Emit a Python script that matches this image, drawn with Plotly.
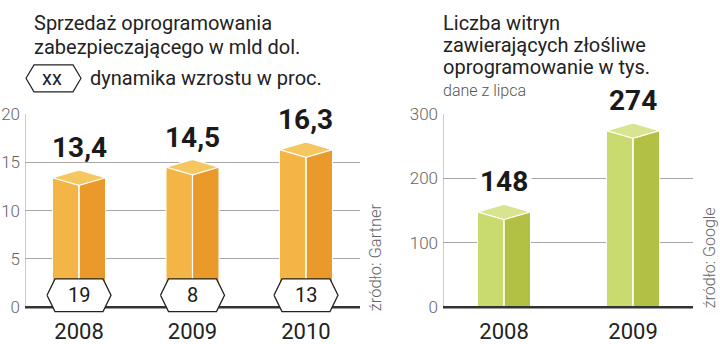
import plotly.graph_objects as go

# ---------------- data ----------------
years_left = ["2008", "2009", "2010"]
sales_bln = [13.4, 14.5, 16.3]
sales_labels = ["13,4", "14,5", "16,3"]
growth_pct = ["19", "8", "13"]

years_right = ["2008", "2009"]
sites_k = [148, 274]
sites_labels = ["148", "274"]

left_ticks = [0, 5, 10, 15, 20]
right_ticks = [0, 100, 200, 300]

# ---------------- layout constants ----------------
W, H = 720, 344
FONT = "Roboto"
ORANGE = dict(front="#F3B646", side="#E99A2B", top="#F6C760")
GREEN = dict(front="#C9DA6E", side="#B2C044", top="#D8E58E")

Y_TOP_PX, Y_BOT_PX = 108, 318
L_X0, L_X1 = 25, 360
R_X0, R_X1 = 443, 693
L_YR = [-0.9, 20]
R_YR = [-13.4, 300]
L_XR = [-0.476, 2.476]
R_XR = [-0.473, 1.465]

ydom = [1 - Y_BOT_PX / H, 1 - Y_TOP_PX / H]


def units_per_px_y(yr):
    return (yr[1] - yr[0]) / (Y_BOT_PX - Y_TOP_PX)


def units_per_px_x(xr, x0, x1):
    return (xr[1] - xr[0]) / (x1 - x0)


fig = go.Figure()


def add_chart(xa, ya, xr, yr, x0px, x1px, values, labels, colors, label_bg, hexes=None):
    uy = units_per_px_y(yr)
    ux = units_per_px_x(xr, x0px, x1px)
    half_w = 26.5 * ux
    d = 8 * uy
    xs = list(range(len(values)))
    # y-axis line
    fig.add_trace(go.Scatter(x=[xr[0], xr[0]], y=[0, yr[1]], mode="lines",
                             line=dict(color="#9a9a9a", width=1), xaxis=xa, yaxis=ya,
                             hoverinfo="skip", showlegend=False, cliponaxis=False))
    # bar bodies
    fig.add_trace(go.Bar(x=xs, y=values, width=half_w, offset=-half_w,
                         marker=dict(color=colors["front"], line=dict(color="white", width=1)),
                         xaxis=xa, yaxis=ya, showlegend=False, hoverinfo="skip"))
    fig.add_trace(go.Bar(x=xs, y=values, width=half_w, offset=0,
                         marker=dict(color=colors["side"], line=dict(color="white", width=1)),
                         xaxis=xa, yaxis=ya, showlegend=False, hoverinfo="skip"))
    # top faces
    for i, v in zip(xs, values):
        fig.add_trace(go.Scatter(
            x=[i - half_w, i, i + half_w, i, i - half_w],
            y=[v, v + d, v, v - d, v],
            mode="lines", fill="toself", fillcolor=colors["top"],
            line=dict(color="white", width=1.2), xaxis=xa, yaxis=ya,
            showlegend=False, hoverinfo="skip"))
        fig.add_trace(go.Scatter(x=[i, i], y=[0, v - d], mode="lines",
                                 line=dict(color="white", width=1.2), xaxis=xa, yaxis=ya,
                                 showlegend=False, hoverinfo="skip"))
    # baseline
    fig.add_trace(go.Scatter(x=[xr[0], xr[1]], y=[0, 0], mode="lines",
                             line=dict(color="#333333", width=2.5), xaxis=xa, yaxis=ya,
                             hoverinfo="skip", showlegend=False, cliponaxis=False))
    # value labels
    for i, v, t in zip(xs, values, labels):
        fig.add_annotation(x=i, y=v, xref=xa, yref=ya, text=t, showarrow=False,
                           yshift=30, xanchor="center", yanchor="middle",
                           font=dict(family=FONT, size=28, color="#1a1a1a", weight="bold"),
                           bgcolor=label_bg, borderpad=3)
    # hexagons
    if hexes:
        hc = 12.5 * uy
        hh = 17 * uy
        hw = 32 * ux
        ins = 8 * ux
        for i, t in zip(xs, hexes):
            fig.add_trace(go.Scatter(
                x=[i - hw, i - hw + ins, i + hw - ins, i + hw, i + hw - ins, i - hw + ins, i - hw],
                y=[hc, hc + hh, hc + hh, hc, hc - hh, hc - hh, hc],
                mode="lines", fill="toself", fillcolor="white",
                line=dict(color="#222222", width=1.3), xaxis=xa, yaxis=ya,
                showlegend=False, hoverinfo="skip", cliponaxis=False))
            fig.add_annotation(x=i, y=hc, xref=xa, yref=ya, text=t, showarrow=False,
                               xanchor="center", yanchor="middle",
                               font=dict(family=FONT, size=20, color="#1a1a1a"))


add_chart("x", "y", L_XR, L_YR, L_X0, L_X1, sales_bln, sales_labels, ORANGE, "rgba(0,0,0,0)", growth_pct)
add_chart("x2", "y2", R_XR, R_YR, R_X0, R_X1, sites_k, sites_labels, GREEN, "white")

tickfont = dict(family=FONT, size=17, color="#666666", weight=300)
yearfont = dict(family=FONT, size=22, color="#222222")

fig.update_layout(
    width=W, height=H, margin=dict(l=0, r=0, t=0, b=0),
    paper_bgcolor="white", plot_bgcolor="white",
    barmode="overlay", showlegend=False,
    xaxis=dict(domain=[L_X0 / W, L_X1 / W], range=L_XR, tickvals=[0, 1, 2], ticktext=years_left,
               showgrid=False, zeroline=False, showline=False, ticks="", tickfont=yearfont,
               fixedrange=True),
    yaxis=dict(domain=ydom, range=L_YR, tickvals=left_ticks, showgrid=True, gridcolor="#a8a8a8",
               gridwidth=1, zeroline=False, showline=False, ticks="", tickfont=tickfont,
               ticklabelstandoff=4),
    xaxis2=dict(domain=[R_X0 / W, R_X1 / W], range=R_XR, tickvals=[0, 1], ticktext=years_right,
                showgrid=False, zeroline=False, showline=False, ticks="", tickfont=yearfont,
                anchor="y2"),
    yaxis2=dict(domain=ydom, range=R_YR, tickvals=right_ticks, showgrid=True, gridcolor="#a8a8a8",
                gridwidth=1, zeroline=False, showline=False, ticks="", tickfont=tickfont,
                anchor="x2", ticklabelstandoff=4),
)


def ptext(x, y, t, size, color="#222222", weight=400, angle=0, xanchor="left"):
    fig.add_annotation(x=x / W, y=1 - y / H, xref="paper", yref="paper", text=t,
                       showarrow=False, xanchor=xanchor, yanchor="middle", textangle=angle,
                       font=dict(family=FONT, size=size, color=color, weight=weight))


# titles
ptext(32, 14, "Sprzedaż oprogramowania", 20)
ptext(32, 38, "zabezpieczającego w mld dol.", 20)
ptext(88, 71, "dynamika wzrostu w proc.", 20)
ptext(52, 71, "xx", 20, xanchor="center")
ptext(441, 13, "Liczba witryn", 20)
ptext(441, 36, "zawierających złośliwe", 20)
ptext(441, 59, "oprogramowanie w tys.", 20)
ptext(441, 84, "dane z lipca", 16, color="#555555", weight=300)
ptext(375, 257, "źródło: Gartner", 16.5, color="#666666", weight=300, angle=-90, xanchor="center")
ptext(709, 258, "źródło: Google", 16, color="#666666", weight=300, angle=-90, xanchor="center")

# legend hexagon (key)
lx0, lx1, ly0, ly1, ins = 26, 81, 57, 85, 8
fig.add_shape(type="path", xref="paper", yref="paper",
              path="M {a},{m} L {b},{t} L {c},{t} L {e},{m} L {c},{bt} L {b},{bt} Z".format(
                  a=lx0 / W, b=(lx0 + ins) / W, c=(lx1 - ins) / W, e=lx1 / W,
                  t=1 - ly0 / H, bt=1 - ly1 / H, m=1 - (ly0 + ly1) / 2 / H),
              line=dict(color="#222222", width=1.2), fillcolor="rgba(0,0,0,0)", layer="above")

fig.write_html("out.html")
